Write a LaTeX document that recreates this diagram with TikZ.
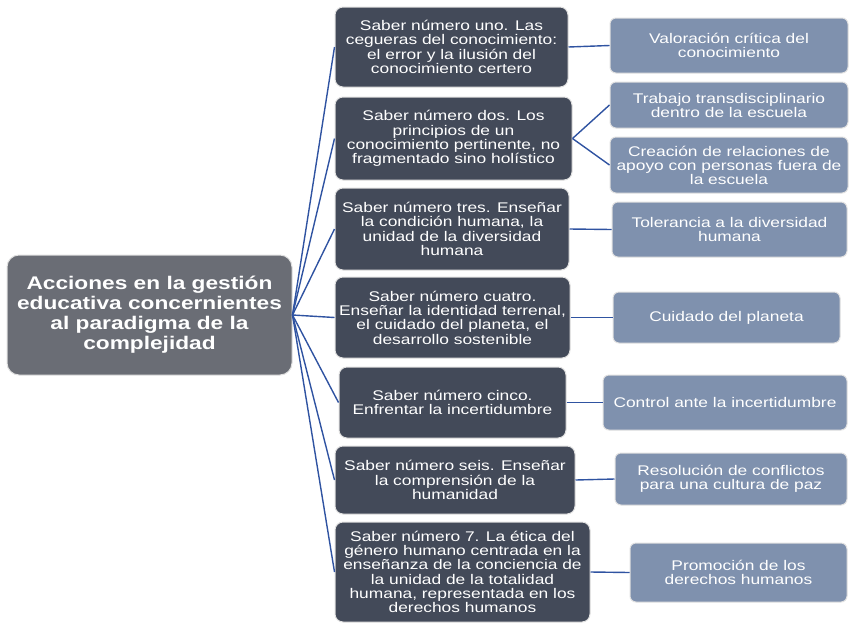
\documentclass[tikz,border=0pt]{standalone}
\usepackage{fontspec}
\setmainfont{Liberation Sans}[FakeStretch=1.24]
\usepackage{tikz}
\usetikzlibrary{arrows.meta}
\definecolor{rootgray}{HTML}{6A6D75}
\definecolor{darkslate}{HTML}{434A59}
\definecolor{lightslate}{HTML}{7F91AE}
\definecolor{linkblue}{HTML}{2F53A1}
\tikzset{
  box/.style={draw=black!12, line width=1pt, text=white, align=center,
    inner sep=0pt, anchor=center},
  rootbox/.style={box, fill=rootgray, rounded corners=12pt,
    font=\bfseries\fontsize{18.3}{20}\selectfont},
  saberbox/.style={box, fill=darkslate, rounded corners=8pt,
    font=\fontsize{14}{14.3}\selectfont},
  accionbox/.style={box, fill=lightslate, rounded corners=6pt,
    font=\fontsize{14}{14}\selectfont},
  link/.style={draw=linkblue, line width=1.4pt}
}

\begin{document}
\begin{tikzpicture}[x=1pt, y=-1pt]

\useasboundingbox (0,0) rectangle (849,622); %% page size

%% root
\node[rootbox, minimum width=285pt, minimum height=120pt] (root) at (149.5,315)
{Acciones en la gestión\\educativa concernientes\\al paradigma de la\\complejidad};

%% saberes
\node[saberbox, minimum width=233pt, minimum height=80pt] (s1) at (451.5,47)
{Saber número uno. Las\\cegueras del conocimiento:\\el error y la ilusión del\\conocimiento certero};
\node[saberbox, minimum width=237pt, minimum height=83pt] (s2) at (453.5,138.5)
{Saber número dos. Los\\principios de un\\conocimiento pertinente, no\\fragmentado sino holístico};
\node[saberbox, minimum width=234pt, minimum height=82pt] (s3) at (452,229)
{Saber número tres. Enseñar\\la condición humana, la\\unidad de la diversidad\\humana};
\node[saberbox, minimum width=235pt, minimum height=81pt] (s4) at (452.5,317.5)
{Saber número cuatro.\\Enseñar la identidad terrenal,\\el cuidado del planeta, el\\desarrollo sostenible};
\node[saberbox, minimum width=227pt, minimum height=71pt] (s5) at (452.5,402.5)
{Saber número cinco.\\Enfrentar la incertidumbre};
\node[saberbox, minimum width=240pt, minimum height=68pt] (s6) at (455,480)
{Saber número seis. Enseñar\\la comprensión de la\\humanidad};
\node[saberbox, minimum width=255pt, minimum height=100pt] (s7) at (462.5,572)
{Saber número 7. La ética del\\género humano centrada en la\\enseñanza de la conciencia de\\la unidad de la totalidad\\humana, representada en los\\derechos humanos};

%% acciones
\node[accionbox, minimum width=238pt, minimum height=55pt] (a1) at (729,45.5)
{Valoración crítica del\\conocimiento};
\node[accionbox, minimum width=238pt, minimum height=46pt] (a2) at (729,105)
{Trabajo transdisciplinario\\dentro de la escuela};
\node[accionbox, minimum width=238pt, minimum height=56pt] (a3) at (729,165)
{Creación de relaciones de\\apoyo con personas fuera de\\la escuela};
\node[accionbox, minimum width=235pt, minimum height=55pt] (a4) at (729.5,229.5)
{Tolerancia a la diversidad\\humana};
\node[accionbox, minimum width=227pt, minimum height=51pt] (a5) at (726.5,317.5)
{Cuidado del planeta};
\node[accionbox, minimum width=244pt, minimum height=55pt] (a6) at (725,402.5)
{Control ante la incertidumbre};
\node[accionbox, minimum width=232pt, minimum height=52pt] (a7) at (731,479)
{Resolución de conflictos\\para una cultura de paz};
\node[accionbox, minimum width=217pt, minimum height=59pt] (a8) at (738.5,572.5)
{Promoción de los\\derechos humanos};

%% links
\foreach \s in {s1,s2,s3,s4,s5,s6,s7}
  \draw[link] (root.east) -- (\s.west);
\draw[link] (s1.east) -- (a1.west);
\draw[link] (s2.east) -- (a2.west);
\draw[link] (s2.east) -- (a3.west);
\draw[link] (s3.east) -- (a4.west);
\draw[link] (s4.east) -- (a5.west);
\draw[link] (s5.east) -- (a6.west);
\draw[link] (s6.east) -- (a7.west);
\draw[link] (s7.east) -- (a8.west);

\end{tikzpicture}
\end{document}
